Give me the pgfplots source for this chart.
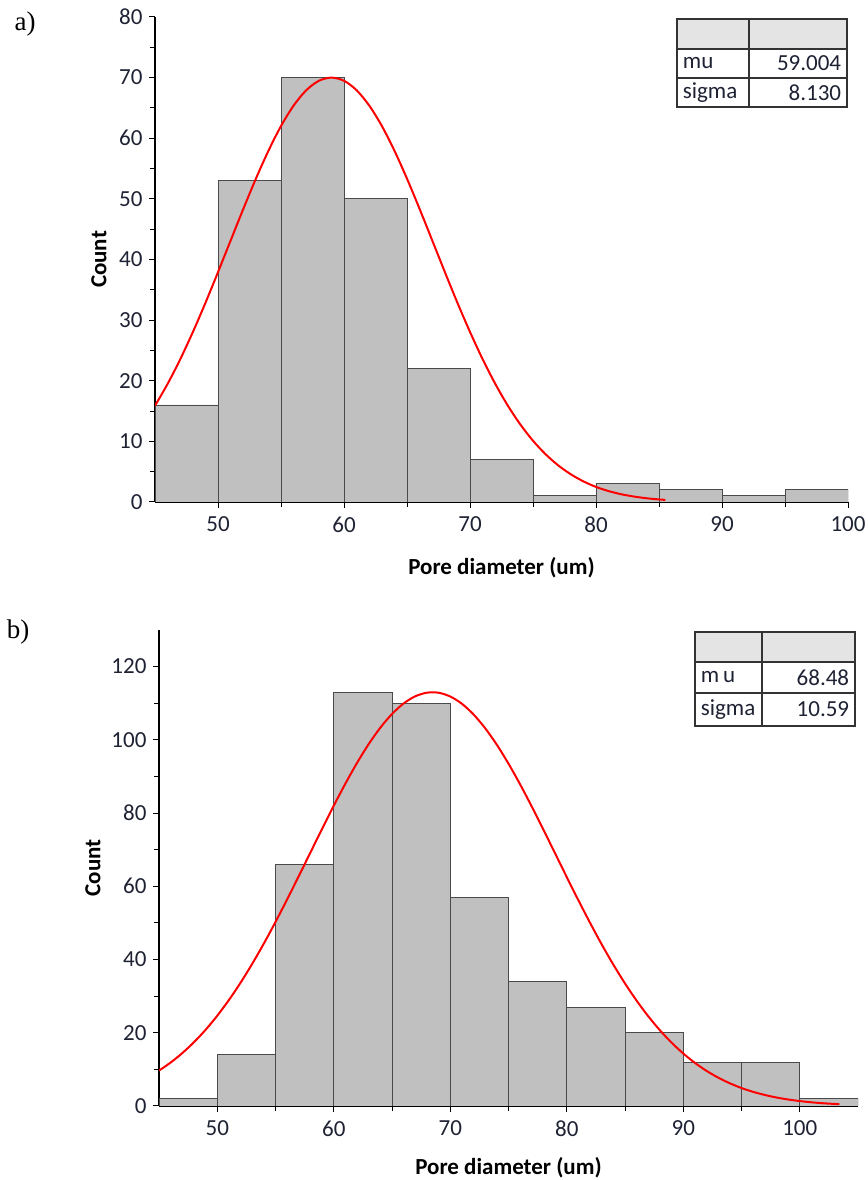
\documentclass[border=0pt]{standalone}
\usepackage{fontspec}
\setmainfont{Carlito}
\newfontfamily\seriffont{Liberation Serif}
\usepackage{pgfplots}
\pgfplotsset{compat=1.18}

\definecolor{barfill}{HTML}{C0C0C0}
\definecolor{baredge}{HTML}{4A4A4A}
\definecolor{hdrfill}{HTML}{E4E4E4}
\definecolor{ticktext}{HTML}{1E2233}

\pgfplotsset{
  histo/.style={
    scale only axis,
    anchor=south west,
    axis x line*=bottom,
    axis y line*=left,
    axis line style={line width=1.2pt, black},
    tick align=outside,
    major tick length=6pt,
    minor tick length=5pt,
    tick style={line width=1pt, black},
    minor tick num=1,
    /pgf/number format/assume math mode=true,
    tick label style={font=\fontsize{23}{25}\selectfont, text=ticktext},
    xticklabel style={yshift=-5pt},
    yticklabel style={xshift=-3pt},
    label style={font=\bfseries\fontsize{23}{25}\selectfont},
    xlabel={Pore diameter (um)},
    ylabel={Count},
    ymin=0, xmin=45,
  },
}

\begin{document}
\begin{tikzpicture}[x=1pt,y=1pt]
\path[use as bounding box] (0,0) rectangle (867,1180);

% ---------- a) ----------
\begin{axis}[histo,
  at={(155pt,678pt)}, width=693pt, height=485pt,
  xmax=100, ymax=80,
  xtick={50,60,...,100}, ytick={0,10,...,80},
  xlabel style={at={(axis description cs:0.5,-0.136)}, anchor=center},
  ylabel style={at={(axis description cs:-0.0808,0.5)}, anchor=center},
]
\addplot[ybar interval, fill=barfill, draw=baredge, line width=0.9pt] coordinates {
  (45,16) (50,53) (55,70) (60,50) (65,22) (70,7) (75,1)
  (80,3) (85,2) (90,1) (95,2) (100,2)
};
\addplot[red, line width=2pt, smooth, no marks] coordinates {
  (45,15.88) (46,19.48) (47,23.53) (48,28.01) (49,32.83) (50,37.91)
  (51,43.12) (52,48.30) (53,53.29) (54,57.92) (55,62.01) (56,65.38)
  (57,67.91) (58,69.47) (59,70.00) (60,69.48) (61,67.92) (62,65.40)
  (63,62.04) (64,57.96) (65,53.33) (66,48.34) (67,43.16) (68,37.95)
  (69,32.87) (70,28.05) (71,23.57) (72,19.51) (73,15.90) (74,12.77)
  (75,10.10) (76,7.87) (77,6.04) (78,4.57) (79,3.40) (80,2.49)
  (81,1.80) (82,1.28) (83,0.90) (84,0.62) (85,0.42) (85.5,0.35)
};
\end{axis}

% ---------- b) ----------
\begin{axis}[histo,
  at={(159pt,74pt)}, width=699pt, height=476pt,
  xmax=105, ymax=130,
  xtick={50,60,...,100}, ytick={0,20,...,120},
  xlabel style={at={(axis description cs:0.5,-0.130)}, anchor=center},
  ylabel style={at={(axis description cs:-0.0944,0.5)}, anchor=center},
]
\addplot[ybar interval, fill=barfill, draw=baredge, line width=0.9pt] coordinates {
  (45,2) (50,14) (55,66) (60,113) (65,110) (70,57) (75,34)
  (80,27) (85,20) (90,12) (95,12) (100,2) (105,2)
};
\addplot[red, line width=2pt, smooth, no marks] coordinates {
  (45,9.67) (46,11.87) (47,14.45) (48,17.42) (49,20.81) (50,24.65)
  (51,28.94) (52,33.67) (53,38.82) (54,44.37) (55,50.26) (56,56.43)
  (57,62.79) (58,69.25) (59,75.70) (60,82.01) (61,88.05) (62,93.71)
  (63,98.84) (64,103.33) (65,107.06) (66,109.94) (67,111.90) (68,112.88)
  (69,112.86) (70,111.84) (71,109.85) (72,106.93) (73,103.16) (74,98.65)
  (75,93.49) (76,87.82) (77,81.76) (78,75.44) (79,68.99) (80,62.53)
  (81,56.18) (82,50.02) (83,44.14) (84,38.61) (85,33.47) (86,28.76)
  (87,24.49) (88,20.67) (89,17.29) (90,14.34) (91,11.78) (92,9.59)
  (93,7.75) (94,6.20) (95,4.91) (96,3.86) (97,3.01) (98,2.32)
  (99,1.78) (100,1.35) (101,1.01) (102,0.75) (103,0.56) (103.4,0.49)
};
\end{axis}

% ---------- parameter tables ----------
\begin{scope}[line width=1.1pt, draw=black!80]
  % a)
  \fill[hdrfill] (677,1131) rectangle (847,1161);
  \draw (677,1073) rectangle (847,1161);
  \draw (677,1131) -- (847,1131);
  \draw (677,1102) -- (847,1102);
  \draw (749,1073) -- (749,1161);
  \node[anchor=west, font=\fontsize{23}{25}\selectfont, text=ticktext] at (679,1116.5) {mu};
  \node[anchor=east, font=\fontsize{23}{25}\selectfont, text=ticktext] at (845,1116.5) {59.004};
  \node[anchor=west, font=\fontsize{23}{25}\selectfont, text=ticktext] at (679,1087.5) {sigma};
  \node[anchor=east, font=\fontsize{23}{25}\selectfont, text=ticktext] at (845,1087.5) {8.130};
  % b)
  \fill[hdrfill] (695,518) rectangle (855,548);
  \draw (695,454) rectangle (855,548);
  \draw (695,518) -- (855,518);
  \draw (695,487) -- (855,487);
  \draw (762,454) -- (762,548);
  \node[anchor=west, font=\fontsize{23}{25}\selectfont, text=ticktext] at (697,502.5) {m\,u};
  \node[anchor=east, font=\fontsize{23}{25}\selectfont, text=ticktext] at (853,502.5) {68.48};
  \node[anchor=west, font=\fontsize{23}{25}\selectfont, text=ticktext] at (697,470.5) {sigma};
  \node[anchor=east, font=\fontsize{23}{25}\selectfont, text=ticktext] at (853,470.5) {10.59};
\end{scope}

% ---------- panel letters ----------
\node[font=\seriffont\fontsize{27}{29}\selectfont] at (25,1156) {a)};
\node[font=\seriffont\fontsize{27}{29}\selectfont] at (18,547.5) {b)};
\end{tikzpicture}
\end{document}
